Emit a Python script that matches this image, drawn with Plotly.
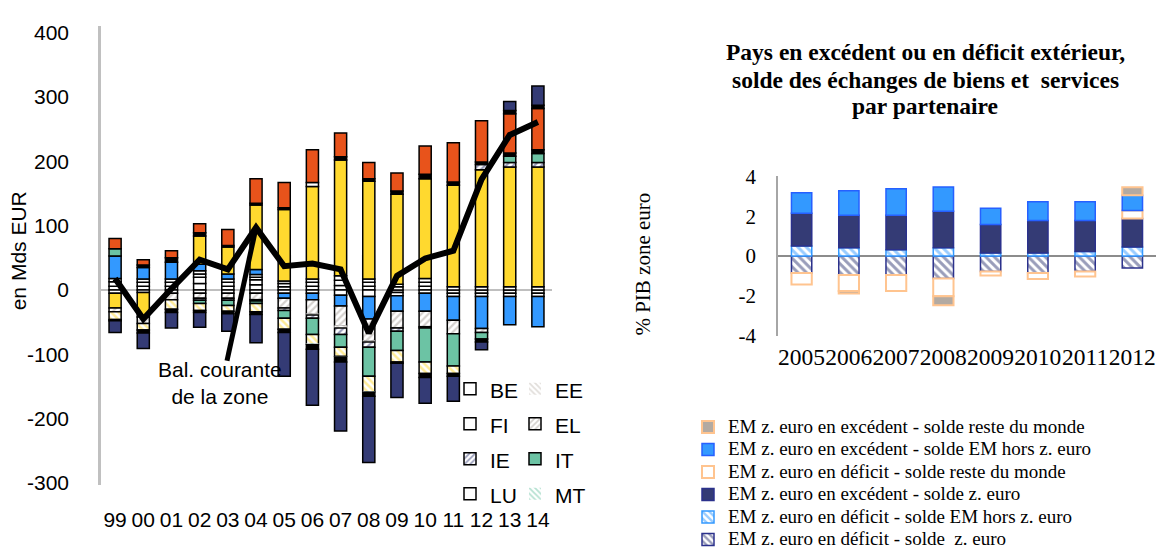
import plotly.graph_objects as go

W, H = 1168, 556
N = None

# ---------------- left panel: current account by member state (bn EUR) ----------------
years = ["99", "00", "01", "02", "03", "04", "05", "06", "07", "08", "09", "10", "11", "12", "13", "14"]
BE = [6, 6, 6, 10, 6, 8, 5, 6, 7, 6, -4, 6, -5, -5, -5, -5]
FI = [7, 6, 6, 10, 6, 8, 5, 6, 8, 6, -5, 6, -5, -5, -5, -5]
LU = [5, 5, 5, 5, 5, 4, 4, 5, 7, 5, 5, 6, 5, 5, 5, 5]
AT = [-5, -4, -5, 5, -5, 4, -5, -5, -8, -10, 4, -5, N, N, N, N]
FR = [35, 18, 26, 10, 8, 8, -8, -10, -17, -35, -24, -28, -37, -50, -44, -47]
DE = [-23, -38, N, 44, 42, 100, 111, 144, 180, 152, 140, 155, 158, 182, 186, 186]
SI = [N, N, N, -5, N, -5, N, 6, N, N, N, N, N, N, N, N]
EL = [-6, -10, -10, -8, -8, -10, -15, -22, -31, -34, -26, -24, -21, -6, N, N]
EE = [N, N, N, N, N, N, N, -2, -3, -2, N, N, N, N, N, N]
IE = [N, N, N, -3, -3, -2, -4, -5, -10, -8, -5, -2, N, 8, 7, 7]
IT = [11, N, N, -5, -8, -4, -12, -25, -20, -45, -30, -53, -50, -10, 10, 14]
SK = [N, 4, 7, 5, 2, 3, 3, N, 5, 4, 5, 7, 5, 4, 5, 6]
NL = [16, 8, 11, 14, 25, 38, 39, 51, 37, 25, 28, 44, 61, 64, 61, 64]
PT = [-12, -10, -15, -11, -9, -13, -17, -15, -14, -24, -18, -18, -12, N, N, N]
MT = [N, N, N, N, N, N, N, -1, -1, -1, N, N, N, N, N, N]
CY = [-2, -5, -5, -3, -4, -4, -5, -7, -8, -6, -2, -6, -4, -5, 5, 5]
ES = [-18, -24, -24, -23, -27, -44, -68, -87, -107, -103, -53, -40, -39, -12, 14, 30]
bal_courante = [18, -45, 2, 47, 32, 97, 37, 41, 32, -67, 22, 49, 61, 172, 241, 261]

left_ticks = [-300, -200, -100, 0, 100, 200, 300, 400]
left_ticktext = ["-300", "-200", "-100", "0", "100", "200", "300", "400"]

# ---------------- right panel: goods & services balance by partner (% GDP) ----------------
years_r = ["2005", "2006", "2007", "2008", "2009", "2010", "2011", "2012"]
def_ze = [-0.85, -0.95, -0.95, -1.12, -0.78, -0.85, -0.78, -0.6]
def_hors = [0.5, 0.42, 0.32, 0.42, 0.15, 0.15, 0.23, 0.45]
exc_ze = [1.65, 1.63, 1.73, 1.83, 1.43, 1.63, 1.55, 1.43]
def_rdm = [-0.58, -0.8, -0.8, -0.9, -0.2, -0.3, -0.25, 0.4]
exc_hors = [1.02, 1.22, 1.33, 1.21, 0.82, 0.94, 0.94, 0.77]
exc_rdm = [N, -0.13, N, -0.45, N, N, N, 0.4]

right_ticks = [-4, -2, 0, 2, 4]
right_ticktext = ["-4", "-2", "0", "2", "4"]

SANS = "Liberation Sans, Arial, sans-serif"
SERIF = "Liberation Serif, Times New Roman, serif"
LFS = 21    # left panel text size
RLEG = 19   # right legend text size

BLUE = "#3399ff"
YELLOW = "#ffd92f"
ORANGE = "#e8531b"
TEAL = "#6cc3a4"
NAVY = "#343b75"
GREYH = "#aaa39d"

fig = go.Figure()


def lbl(text, size):
    return "<span style='font-size:%spx'>%s</span>" % (size, text)


def left_bar(name, vals, fill, pattern=None, border="black", bw=1.5, legend=None, rank=None):
    marker = dict(color=fill, line=dict(color=border, width=bw))
    if pattern:
        marker["pattern"] = pattern
    fig.add_trace(go.Bar(
        x=years, y=vals, name=lbl(name, LFS) if legend else name, marker=marker,
        width=0.43, xaxis="x", yaxis="y",
        showlegend=legend is not None, legend=legend or "legend",
        legendrank=rank if rank else 1000,
    ))


def hatch(shape, fg, size=5, sol=0.45):
    return dict(shape=shape, fgcolor=fg, bgcolor="white", size=size, solidity=sol)


left_bar("BE", BE, "white", legend="legend", rank=1)
left_bar("FI", FI, "white", legend="legend", rank=2)
left_bar("LU", LU, "white", legend="legend", rank=4)
left_bar("AT", AT, "white")
left_bar("FR", FR, BLUE)
left_bar("DE", DE, YELLOW)
left_bar("SI", SI, "white")
left_bar("EL", EL, "white", pattern=hatch("/", GREYH), legend="legend2", rank=2)
left_bar("EE", EE, "white", pattern=hatch("\\", "#c4bdb6"), bw=0, legend="legend2", rank=1)
left_bar("IE", IE, "white", pattern=hatch("/", NAVY), legend="legend", rank=3)
left_bar("IT", IT, TEAL, legend="legend2", rank=3)
left_bar("SK", SK, "black")
left_bar("NL", NL, ORANGE)
left_bar("PT", PT, "white", pattern=hatch("\\", YELLOW, sol=0.5))
left_bar("MT", MT, "white", pattern=hatch("\\", TEAL), bw=0, legend="legend2", rank=4)
left_bar("CY", CY, "black")
left_bar("ES", ES, NAVY)

fig.add_trace(go.Scatter(
    x=years, y=bal_courante, mode="lines", name="Bal. courante de la zone",
    line=dict(color="black", width=6), xaxis="x", yaxis="y", showlegend=False,
))


def right_bar(name, vals, fill, border, rank, pattern=None, bw=1.5):
    marker = dict(color=fill, line=dict(color=border, width=bw))
    if pattern:
        marker["pattern"] = pattern
    fig.add_trace(go.Bar(
        x=years_r, y=vals, name=lbl(name, RLEG), marker=marker, width=0.43,
        xaxis="x2", yaxis="y2", legend="legend3", legendrank=rank,
    ))


right_bar("EM z. euro en déficit - solde  z. euro", def_ze, "white", "#2b318c", 6,
          pattern=hatch("\\", NAVY, size=6, sol=0.5))
right_bar("EM z. euro en déficit - solde EM hors z. euro", def_hors, "white", BLUE, 5,
          pattern=hatch("\\", BLUE, size=6, sol=0.5))
right_bar("EM z. euro en excédent - solde z. euro", exc_ze, NAVY, "#2b318c", 4)
right_bar("EM z. euro en déficit - solde reste du monde", def_rdm, "white", "#ffc48f", 3, bw=2)
right_bar("EM z. euro en excédent - solde EM hors z. euro", exc_hors, BLUE, "#2660ff", 2)
right_bar("EM z. euro en excédent - solde reste du monde", exc_rdm, "#b3aaa2", "#ffc48f", 1, bw=2)

axis_common = dict(showgrid=False, fixedrange=True, ticks="")

fig.update_layout(
    width=W, height=H, autosize=False,
    margin=dict(l=0, r=0, t=0, b=0),
    paper_bgcolor="white", plot_bgcolor="white",
    barmode="relative", bargap=0.5,
    font=dict(family=SANS, size=LFS, color="black"),
    xaxis=dict(domain=[101 / W, 552 / W], type="category", range=[-0.5, 15.5],
               anchor="y", showline=False, zeroline=False, tickangle=0,
               tickfont=dict(family=SANS, size=LFS), ticklabelstandoff=20, **axis_common),
    yaxis=dict(domain=[1 - 498 / H, 1 - 15 / H], range=[-303, 410], anchor="x",
               tickvals=left_ticks, ticktext=left_ticktext,
               showline=True, linecolor="#c0c0c0", linewidth=2.5,
               zeroline=True, zerolinecolor="#bfbfbf", zerolinewidth=2,
               tickfont=dict(family=SANS, size=LFS), ticklabelstandoff=25, **axis_common),
    xaxis2=dict(domain=[778 / W, 1156 / W], type="category", range=[-0.5, 7.5],
                anchor="y2", showline=False, zeroline=False, tickangle=0,
                tickfont=dict(family=SERIF, size=23.5), ticklabelstandoff=5, **axis_common),
    yaxis2=dict(domain=[1 - 341 / H, 1 - 173 / H], range=[-4, 4], anchor="x2",
                tickvals=right_ticks, ticktext=right_ticktext,
                showline=True, linecolor="#a6a6a6", linewidth=1.5,
                zeroline=True, zerolinecolor="#8c8c8c", zerolinewidth=1.5,
                tickfont=dict(family=SERIF, size=21), ticklabelstandoff=16, **axis_common),
    legend=dict(x=450 / W, y=1 - 373 / H, xanchor="left", yanchor="top",
                font=dict(family=SANS, size=24.6), bgcolor="rgba(0,0,0,0)",
                traceorder="normal"),
    legend2=dict(x=515 / W, y=1 - 373 / H, xanchor="left", yanchor="top",
                 font=dict(family=SANS, size=24.6), bgcolor="rgba(0,0,0,0)",
                 traceorder="normal"),
    # row pitch = 1.3 * size + 3 = 22.5 px
    legend3=dict(x=688 / W, y=1 - 420 / H, xanchor="left", yanchor="top",
                 font=dict(family=SERIF, size=15), bgcolor="rgba(0,0,0,0)",
                 traceorder="normal"),
    showlegend=True,
)

# pointer from the label to the 2004 point of the aggregate balance
fig.add_shape(type="line", xref="x", yref="y", x0=3.97, y0=-110, x1=5, y1=97,
              line=dict(color="black", width=5), layer="above")

TFS = 23.5
annotations = [
    dict(text="en Mds EUR", x=18 / W, y=1 - 252 / H, textangle=-90,
         font=dict(family=SANS, size=LFS)),
    dict(text="Bal. courante<br>de la zone", x=220 / W, y=1 - 391 / H,
         font=dict(family=SANS, size=LFS)),
    dict(text="<b>Pays en excédent ou en déficit extérieur,</b>", x=925 / W, y=1 - 42 / H,
         font=dict(family=SERIF, size=TFS)),
    dict(text="<b>solde des échanges de biens et  services</b>", x=925 / W, y=1 - 72 / H,
         font=dict(family=SERIF, size=TFS)),
    dict(text="<b>par partenaire</b>", x=925 / W, y=1 - 99 / H,
         font=dict(family=SERIF, size=TFS)),
    dict(text="% PIB zone euro", x=643 / W, y=1 - 266 / H, textangle=-90,
         font=dict(family=SERIF, size=21)),
]
for a in annotations:
    a.update(xref="paper", yref="paper", showarrow=False, xanchor="center", yanchor="middle")
fig.update_layout(annotations=annotations)

fig.write_html("out.html")
